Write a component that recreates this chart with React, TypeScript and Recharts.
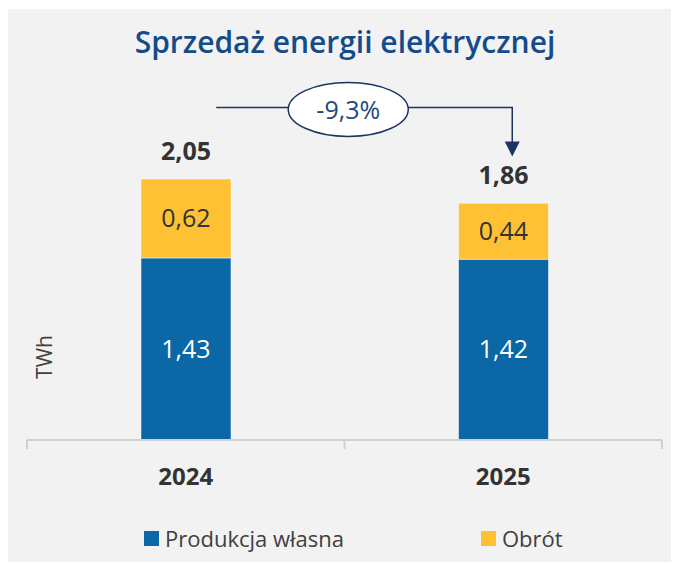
import React from 'react';
import { BarChart, Bar, XAxis, YAxis, LabelList, Legend, ReferenceDot } from 'recharts';

const years = ['2024', '2025'];
const ownProduction = [1.43, 1.42];
const trading = [0.62, 0.44];
const totals = [2.05, 1.86];
const seriesNames = ['Produkcja własna', 'Obrót'];
const changeLabel = '-9,3%';
const title = 'Sprzedaż energii elektrycznej';
const unitLabel = 'TWh';

const data = years.map((year, i) => ({
  year,
  own: ownProduction[i],
  trade: trading[i],
  total: totals[i],
}));

const W = 671;
const H = 553;
const BLUE = '#0b67a6';
const YELLOW = '#fdc133';
const NAVY = '#1b355e';
const AXIS = '#d0d0d0';
const FONT = '"Open Sans", "Noto Sans", sans-serif';

const fmt = (v: any) => Number(v).toFixed(2).replace('.', ',');

const YearTick = (props: any) => {
  const { x, y, payload, index } = props;
  const off = payload && payload.offset ? payload.offset : 0;
  const isLast = index === years.length - 1;
  return (
    <g>
      <line x1={x - off} y1={y} x2={x - off} y2={y + 9} stroke={AXIS} strokeWidth={2} />
      {isLast && <line x1={x + off} y1={y} x2={x + off} y2={y + 9} stroke={AXIS} strokeWidth={2} />}
      <text x={x} y={y + 45} textAnchor="middle" fontFamily={FONT} fontSize={24} fontWeight={700} fill="#333333">
        {payload.value}
      </text>
    </g>
  );
};

const ChangeBadge = (props: any) => {
  const { cx: baseX, cy } = props;
  const cx = baseX + 162.5;
  const rx = 60;
  const ry = 27;
  const ly = cy - 2;
  const leftX = cx - 132;
  const rightX = cx + 164;
  const tipY = cy + 47;
  return (
    <g>
      <line x1={leftX} y1={ly} x2={cx} y2={ly} stroke={NAVY} strokeWidth={1.5} />
      <polyline
        points={`${cx},${ly} ${rightX},${ly} ${rightX},${tipY - 14}`}
        fill="none"
        stroke={NAVY}
        strokeWidth={1.5}
      />
      <polygon points={`${rightX - 7.5},${tipY - 15} ${rightX + 7.5},${tipY - 15} ${rightX},${tipY}`} fill={NAVY} />
      <ellipse cx={cx} cy={cy} rx={rx} ry={ry} fill="#ffffff" stroke={NAVY} strokeWidth={1.5} />
      <text x={cx} y={cy + 10} textAnchor="middle" fontFamily={FONT} fontSize={25} fill="#1d4a7c">
        {changeLabel}
      </text>
    </g>
  );
};

const LegendContent = (props: any) => {
  const payload = [...(props.payload || [])].sort(
    (a: any, b: any) => seriesNames.indexOf(a.value) - seriesNames.indexOf(b.value)
  );
  const lefts = [136, 473];
  return (
    <div style={{ position: 'relative', width: W, height: 62 }}>
      {payload.map((p: any, i: number) => (
        <div
          key={p.value}
          style={{
            position: 'absolute',
            left: lefts[i],
            top: 31,
            height: 15,
            display: 'flex',
            alignItems: 'center',
            whiteSpace: 'nowrap',
          }}
        >
          <span style={{ display: 'inline-block', width: 15, height: 15, background: p.color, marginRight: 6 }} />
          <span style={{ fontFamily: FONT, fontSize: 22, color: '#404040', lineHeight: '15px' }}>{p.value}</span>
        </div>
      ))}
    </div>
  );
};

export default function App() {
  return (
    <div style={{ paddingTop: 1 }}>
      <div style={{ position: 'relative', width: W, height: H, background: '#f2f2f2' }}>
        <BarChart width={W} height={H} data={data} margin={{ top: 49, right: 17, bottom: 0, left: 19 }}>
          <XAxis
            dataKey="year"
            height={60}
            axisLine={{ stroke: AXIS, strokeWidth: 2 }}
            tickLine={false}
            tickSize={0}
            tickMargin={0}
            tick={<YearTick />}
            interval={0}
          />
          <YAxis hide domain={[0, 3]} />
          <Legend verticalAlign="bottom" wrapperStyle={{ left: 0, width: W, height: 62 }} content={<LegendContent />} />
          <Bar
            dataKey="own"
            name={seriesNames[0]}
            stackId="s"
            fill={BLUE}
            barSize={90}
            stroke="#ffffff"
            strokeOpacity={0.5}
            isAnimationActive={false}
          >
            <LabelList dataKey="own" position="center" formatter={fmt} fill="#ffffff" fontSize={25} fontFamily={FONT} />
          </Bar>
          <Bar
            dataKey="trade"
            name={seriesNames[1]}
            stackId="s"
            fill={YELLOW}
            barSize={90}
            stroke="#ffffff"
            strokeOpacity={0.5}
            isAnimationActive={false}
          >
            <LabelList dataKey="trade" position="center" formatter={fmt} fill="#333333" fontSize={25} fontFamily={FONT} />
            <LabelList
              dataKey="total"
              position="top"
              offset={19}
              formatter={fmt}
              fill="#333333"
              fontSize={25}
              fontWeight={700}
              fontFamily={FONT}
            />
          </Bar>
          <ReferenceDot x={years[0]} y={2.596} ifOverflow="visible" shape={<ChangeBadge />} />
        </BarChart>
        <svg width={W} height={H} style={{ position: 'absolute', left: 0, top: 0, pointerEvents: 'none' }}>
          <text x={337} y={44} textAnchor="middle" fontFamily={FONT} fontSize={30} fontWeight={600} fill="#144b8a">
            {title}
          </text>
          <text transform="translate(44,348) rotate(-90)" textAnchor="middle" fontFamily={FONT} fontSize={21} fill="#404040">
            {unitLabel}
          </text>
        </svg>
      </div>
    </div>
  );
}
